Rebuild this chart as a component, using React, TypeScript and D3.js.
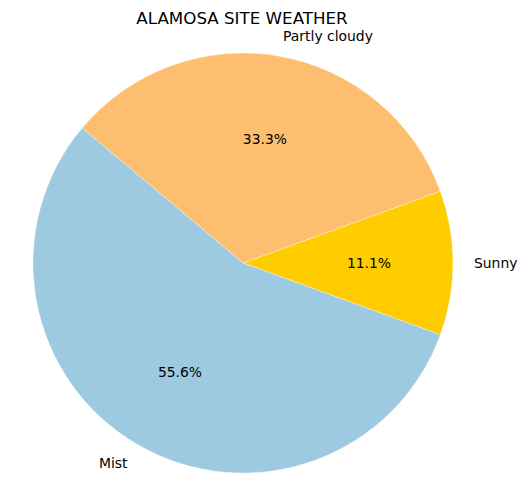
import React from "react";
import * as d3 from "d3";

const categories = ["Sunny", "Partly cloudy", "Mist"];
const values = [1, 3, 5];
const colors = ["#ffcc00", "#fdbf6f", "#9ecae1"];
const title = "ALAMOSA SITE WEATHER";

const W = 528;
const H = 504;
const cx = 243;
const cy = 263;
const R = 210;
const startDeg = -20; // matplotlib startangle, counterclockwise

export default function App() {
  const total = d3.sum(values);
  // d3 angles: clockwise from 12 o'clock. matplotlib angle a (ccw from 3 o'clock) -> d3 = 90 - a
  const pie = d3
    .pie<number>()
    .sort(null)
    .value((d) => d)
    .startAngle(((90 - startDeg) * Math.PI) / 180)
    .endAngle(((90 - startDeg - 360) * Math.PI) / 180);
  const arcs = pie(values);
  const arc = d3.arc<d3.PieArcDatum<number>>().innerRadius(0).outerRadius(R);
  const font = "DejaVu Sans, sans-serif";

  return (
    <svg
      width={W}
      height={H}
      style={{ position: "absolute", left: 0, top: 0, background: "#fff" }}
    >
      <text
        x={242}
        y={18}
        textAnchor="middle"
        dominantBaseline="central"
        fontFamily={font}
        fontSize={16.7}
        fill="#000"
      >
        {title}
      </text>
      <g transform={`translate(${cx},${cy})`}>
        {arcs.map((a, i) => (
          <path
            key={categories[i]}
            d={arc(a) || ""}
            fill={colors[i]}
            stroke="#ffffff"
            strokeWidth={0.6}
            strokeOpacity={0.6}
          />
        ))}
        {arcs.map((a, i) => {
          const mid = (a.startAngle + a.endAngle) / 2;
          const sx = Math.sin(mid);
          const sy = -Math.cos(mid);
          const lx = sx * R * 1.1;
          const ly = sy * R * 1.1;
          const px = sx * R * 0.6;
          const py = sy * R * 0.6;
          const pct = ((values[i] / total) * 100).toFixed(1) + "%";
          return (
            <g key={"l" + i}>
              <text
                x={lx}
                y={ly}
                textAnchor={lx > 0 ? "start" : "end"}
                dominantBaseline="central"
                fontFamily={font}
                fontSize={13.9}
                fill="#000"
              >
                {categories[i]}
              </text>
              <text
                x={px}
                y={py}
                textAnchor="middle"
                dominantBaseline="central"
                fontFamily={font}
                fontSize={13.9}
                fill="#000"
              >
                {pct}
              </text>
            </g>
          );
        })}
      </g>
    </svg>
  );
}
